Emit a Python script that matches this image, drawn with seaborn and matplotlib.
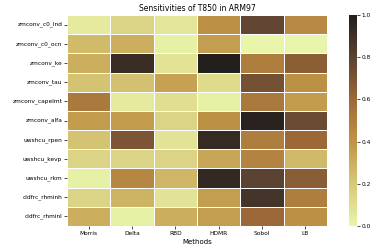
import numpy as np
import pandas as pd
import seaborn as sns
import matplotlib
matplotlib.use("Agg")
import matplotlib.pyplot as plt
from matplotlib.colors import LinearSegmentedColormap

params = ["zmconv_c0_lnd", "zmconv_c0_ocn", "zmconv_ke", "zmconv_tau",
          "zmconv_capelmt", "zmconv_alfa", "uwshcu_rpen", "uwshcu_kevp",
          "uwshcu_rkm", "cldfrc_rhminh", "cldfrc_rhminl"]
methods = ["Morris", "Delta", "RBD", "HDMR", "Sobol", "LB"]

morris = [0.05, 0.25, 0.30, 0.22, 0.52, 0.37, 0.22, 0.15, 0.02, 0.15, 0.30]
delta = [0.15, 0.30, 0.92, 0.23, 0.05, 0.37, 0.70, 0.15, 0.46, 0.28, 0.02]
rbd = [0.07, 0.02, 0.08, 0.35, 0.10, 0.15, 0.08, 0.15, 0.27, 0.08, 0.30]
hdmr = [0.42, 0.36, 1.00, 0.12, 0.02, 0.42, 0.93, 0.33, 0.94, 0.36, 0.36]
sobol = [0.78, 0.00, 0.50, 0.72, 0.52, 0.98, 0.50, 0.48, 0.80, 0.88, 0.60]
lb = [0.45, 0.00, 0.65, 0.42, 0.37, 0.75, 0.60, 0.26, 0.66, 0.50, 0.42]

df = pd.DataFrame({"Morris": morris, "Delta": delta, "RBD": rbd,
                   "HDMR": hdmr, "Sobol": sobol, "LB": lb}, index=params)

cmap = LinearSegmentedColormap.from_list(
    "sens", ["#e9f5aa", "#d6c878", "#c09446", "#9c6838", "#5c4232", "#231f1c"])

W, H = 372, 246
fig = plt.figure(figsize=(3.72, 2.46), dpi=100)
ax = fig.add_axes([67 / W, 1 - 226 / H, (327 - 67) / W, (226 - 15) / H])
cax = fig.add_axes([349 / W, 1 - 226 / H, 8 / W, (226 - 15) / H])
sns.heatmap(df[methods], cmap=cmap, vmin=0, vmax=1, linewidths=0.6,
            linecolor="white", ax=ax, cbar_ax=cax,
            cbar_kws={"ticks": [0, 0.2, 0.4, 0.6, 0.8, 1.0]})
ax.set_title("Sensitivities of T850 in ARM97", fontsize=5.5, pad=3)
ax.set_xlabel("Methods", fontsize=5, labelpad=2)
ax.tick_params(labelsize=4.2, length=2, width=0.5, pad=1.5)
cax.tick_params(labelsize=4.2, length=2, width=0.5, pad=1.5)
cax.yaxis.set_major_formatter(matplotlib.ticker.FormatStrFormatter("%.1f"))
for s in cax.spines.values():
    s.set_visible(False)
plt.setp(ax.get_yticklabels(), rotation=0)
plt.setp(ax.get_xticklabels(), rotation=0)
fig.savefig("out.png", dpi=100)
